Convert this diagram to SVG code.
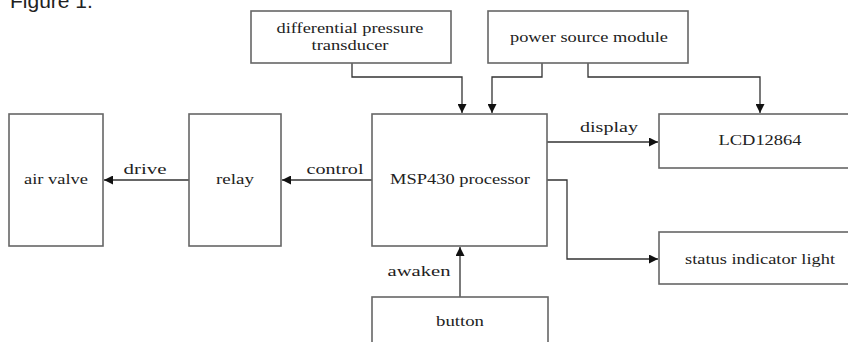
<svg xmlns="http://www.w3.org/2000/svg" width="848" height="342" viewBox="0 0 848 342">
<style>
.box{fill:#fff;stroke:#666;stroke-width:1.6}
.t{font-family:'Liberation Serif','DejaVu Serif',serif;font-size:15px;fill:#222;text-anchor:middle}
.c{fill:none;stroke:#333;stroke-width:1.3}
</style>
<defs>
<marker id="ah" viewBox="0 0 10 10" refX="10" refY="5" markerWidth="9" markerHeight="9" markerUnits="userSpaceOnUse" orient="auto">
<path d="M0,0 L10,5 L0,10 Z" fill="#111"/>
</marker>
</defs>
<rect width="848" height="342" fill="#fff"/>
<text x="10" y="8" font-family="'Liberation Sans',Arial,sans-serif" font-size="21" fill="#222">Figure 1.</text>
<g id="connectors">
<path class="c" d="M352,63 V77 H462 V113" marker-end="url(#ah)"/>
<path class="c" d="M542,63 V77 H492 V113" marker-end="url(#ah)"/>
<path class="c" d="M588,63 V77 H760 V113" marker-end="url(#ah)"/>
<path class="c" d="M547,142 H658" marker-end="url(#ah)"/>
<path class="c" d="M547,180 H567 V259 H658" marker-end="url(#ah)"/>
<path class="c" d="M372,180 H282" marker-end="url(#ah)"/>
<path class="c" d="M189,180 H104" marker-end="url(#ah)"/>
<path class="c" d="M460,297 V247" marker-end="url(#ah)"/>
<text class="t" font-family="'Liberation Serif',serif" x="609" y="132" textLength="58" lengthAdjust="spacingAndGlyphs">display</text>
<text class="t" font-family="'Liberation Serif',serif" x="335" y="174" textLength="57" lengthAdjust="spacingAndGlyphs">control</text>
<text class="t" font-family="'Liberation Serif',serif" x="145" y="174" textLength="43" lengthAdjust="spacingAndGlyphs">drive</text>
<text class="t" font-family="'Liberation Serif',serif" x="419" y="276" textLength="63" lengthAdjust="spacingAndGlyphs">awaken</text>
</g>
<g id="diff" font-family="'Liberation Serif',serif">
<rect class="box" x="251" y="11" width="200" height="52"/>
<text class="t" x="350" y="33" textLength="147" lengthAdjust="spacingAndGlyphs">differential pressure</text>
<text class="t" x="350" y="50" textLength="77" lengthAdjust="spacingAndGlyphs">transducer</text>
</g>
<g id="power" font-family="'Liberation Serif',serif">
<rect class="box" x="488" y="11" width="200" height="52"/>
<text class="t" x="589" y="42" textLength="158" lengthAdjust="spacingAndGlyphs">power source module</text>
</g>
<g id="airvalve" font-family="'Liberation Serif',serif">
<rect class="box" x="9" y="114" width="94" height="132"/>
<text class="t" x="56" y="184" textLength="64" lengthAdjust="spacingAndGlyphs">air valve</text>
</g>
<g id="relay" font-family="'Liberation Serif',serif">
<rect class="box" x="189" y="114" width="92" height="132"/>
<text class="t" x="235" y="184" textLength="38" lengthAdjust="spacingAndGlyphs">relay</text>
</g>
<g id="msp430" font-family="'Liberation Serif',serif">
<rect class="box" x="372" y="114" width="175" height="132"/>
<text class="t" x="460" y="184" textLength="140" lengthAdjust="spacingAndGlyphs">MSP430 processor</text>
</g>
<g id="lcd" font-family="'Liberation Serif',serif">
<rect class="box" x="659" y="114" width="200" height="54"/>
<text class="t" x="760" y="145" textLength="83" lengthAdjust="spacingAndGlyphs">LCD12864</text>
</g>
<g id="status" font-family="'Liberation Serif',serif">
<rect class="box" x="659" y="232" width="200" height="52"/>
<text class="t" x="760" y="264" textLength="150" lengthAdjust="spacingAndGlyphs">status indicator light</text>
</g>
<g id="button" font-family="'Liberation Serif',serif">
<rect class="box" x="372" y="297" width="176" height="60"/>
<text class="t" x="460" y="326" textLength="48" lengthAdjust="spacingAndGlyphs">button</text>
</g>
</svg>
